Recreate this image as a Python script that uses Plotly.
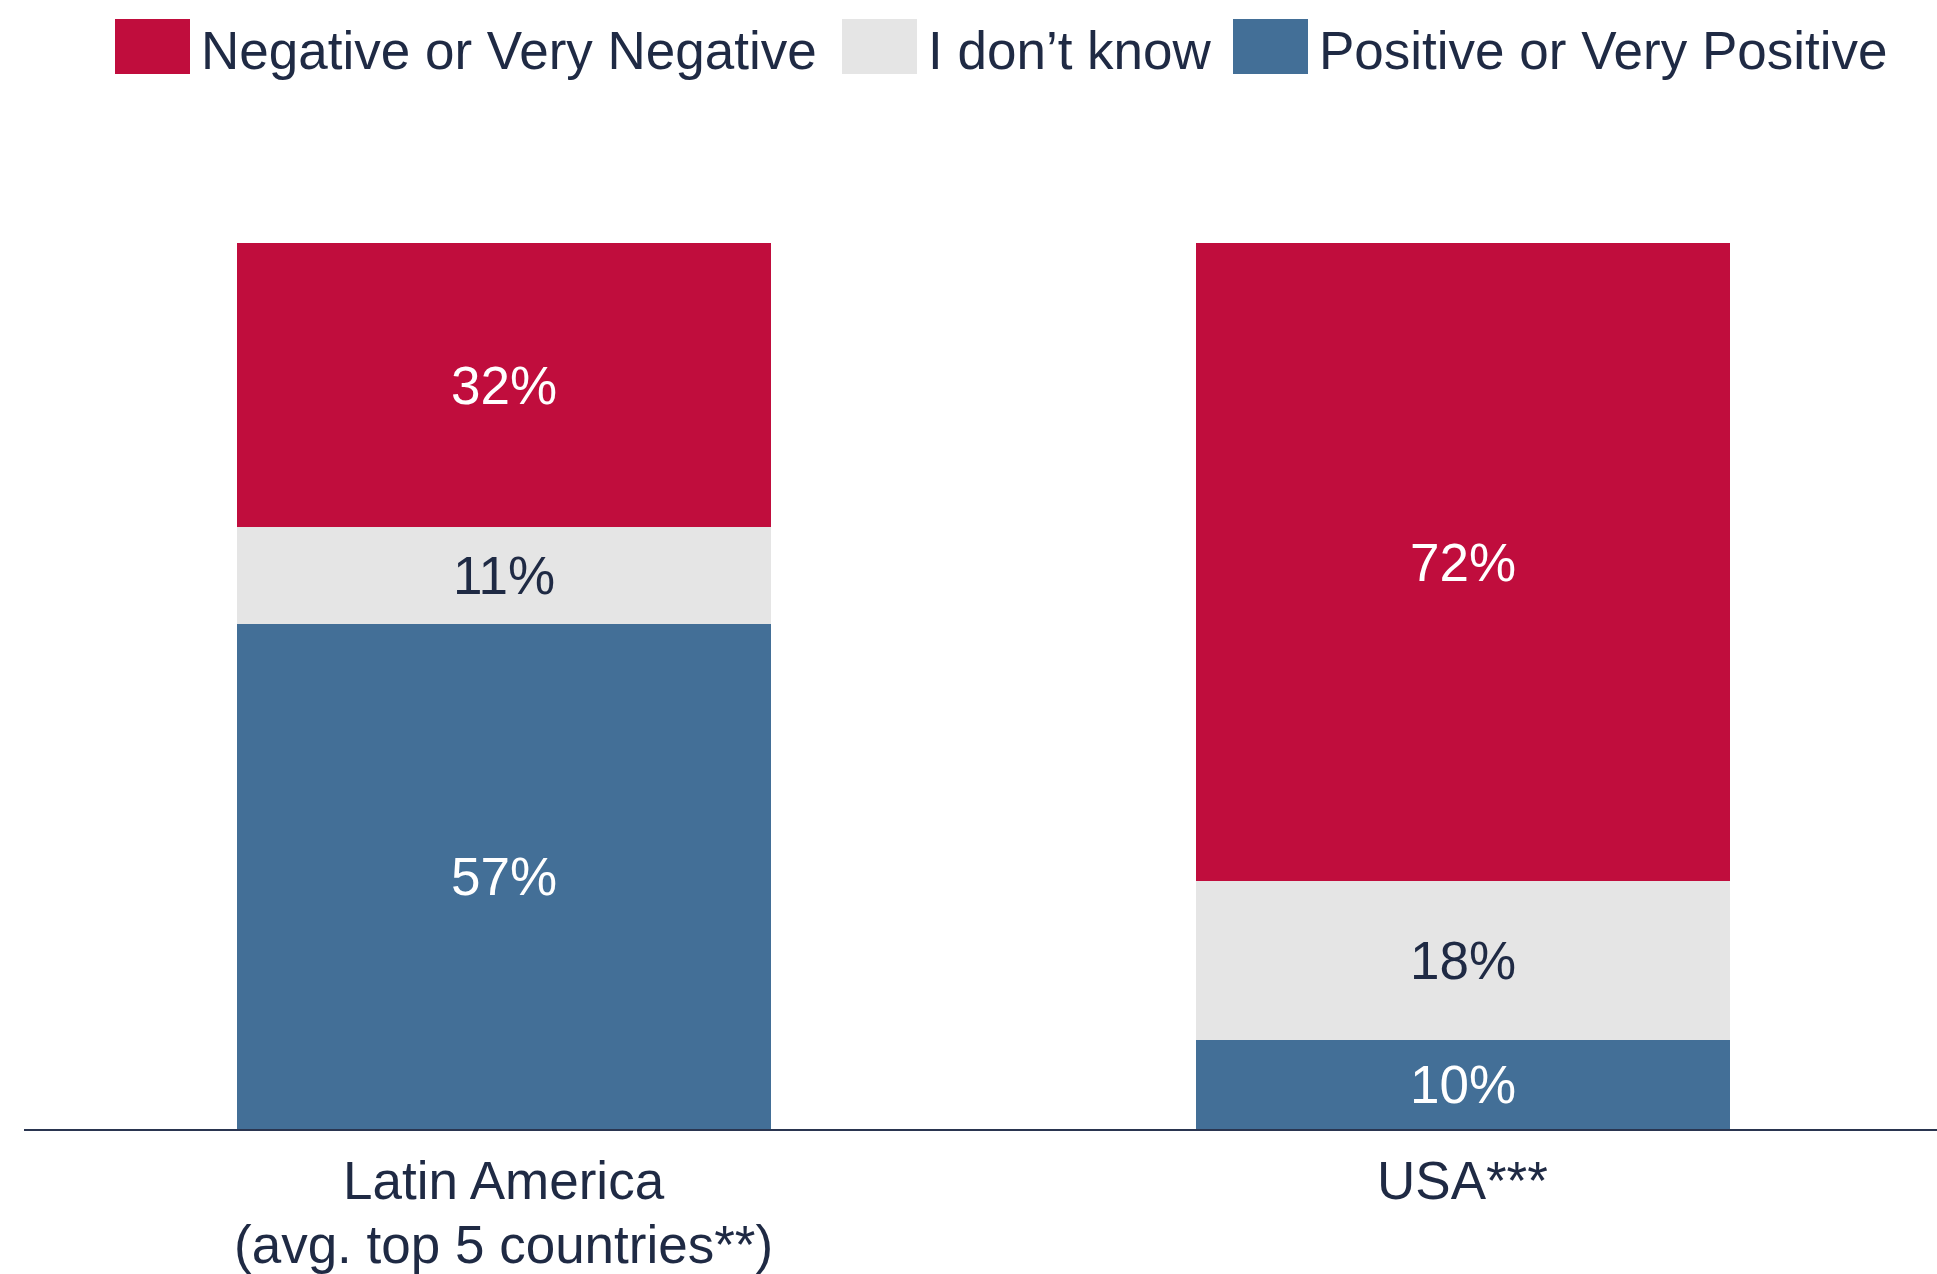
import plotly.graph_objects as go

# Survey results: share of respondents by sentiment
category_lines = [["Latin America", "(avg. top 5 countries**)"], ["USA***"]]
categories = ["<br>".join(lines) for lines in category_lines]
series_names = ["Positive or Very Positive", "I don\u2019t know", "Negative or Very Negative"]
positive = [57, 10]
dont_know = [11, 18]
negative = [32, 72]

colors = {
    "Positive or Very Positive": "#436F97",
    "I don\u2019t know": "#E5E5E5",
    "Negative or Very Negative": "#C00D3D",
}
text_colors = {
    "Positive or Very Positive": "#FFFFFF",
    "I don\u2019t know": "#1F2A44",
    "Negative or Very Negative": "#FFFFFF",
}
values = {
    "Positive or Very Positive": positive,
    "I don\u2019t know": dont_know,
    "Negative or Very Negative": negative,
}

FONT = "Liberation Sans, Arial, sans-serif"
NAVY = "#1F2A44"
FS = 53

W, H = 1937, 1274
M_L, M_R, M_T, M_B = 24, 0, 243, 145
PLOT_W = W - M_L - M_R
PLOT_H = H - M_T - M_B

fig = go.Figure()
for name in series_names:
    fig.add_trace(go.Bar(
        x=categories,
        y=values[name],
        name=name,
        marker=dict(color=colors[name], line=dict(width=0)),
        width=0.557,
        text=[f"{v}%" for v in values[name]],
        textposition="inside",
        insidetextanchor="middle",
        textangle=0,
        constraintext="none",
        insidetextfont=dict(family=FONT, size=FS, color=text_colors[name]),
        showlegend=False,
    ))


def px_x(x):
    return (x - M_L) / PLOT_W


def px_y(y):
    return (H - M_B - y) / PLOT_H


# Category labels below the axis, one annotation per line for tighter leading
line_centers = [1180, 1244]
for cat, lines in zip(categories, category_lines):
    for line, yc in zip(lines, line_centers):
        fig.add_annotation(
            xref="x", yref="paper", x=cat, y=px_y(yc),
            text=line, showarrow=False, xanchor="center", yanchor="middle",
            font=dict(family=FONT, size=FS, color=NAVY),
        )

# Legend row drawn as swatches and labels along the top
legend_order = ["Negative or Very Negative", "I don\u2019t know", "Positive or Very Positive"]
swatch_x = [115, 842, 1233]
for name, x0 in zip(legend_order, swatch_x):
    fig.add_shape(
        type="rect", xref="paper", yref="paper",
        x0=px_x(x0), x1=px_x(x0 + 75),
        y0=px_y(74), y1=px_y(19),
        fillcolor=colors[name], line=dict(width=0),
    )
    fig.add_annotation(
        xref="paper", yref="paper",
        x=px_x(x0 + 84), y=px_y(50),
        text=name, showarrow=False, xanchor="left", yanchor="middle",
        font=dict(family=FONT, size=FS, color=NAVY),
    )

fig.update_layout(
    barmode="stack",
    width=W, height=H,
    margin=dict(l=M_L, r=M_R, t=M_T, b=M_B),
    paper_bgcolor="white",
    plot_bgcolor="white",
    bargap=0,
    font=dict(family=FONT, size=FS, color=NAVY),
)
fig.update_xaxes(
    range=[-0.5005, 1.4943],
    automargin=False,
    showline=True, linecolor="#2A3550", linewidth=2,
    showgrid=False, ticks="", showticklabels=False,
)
fig.update_yaxes(
    range=[0, 100], visible=False, showgrid=False, zeroline=False,
    automargin=False,
)

fig.write_html("out.html")
